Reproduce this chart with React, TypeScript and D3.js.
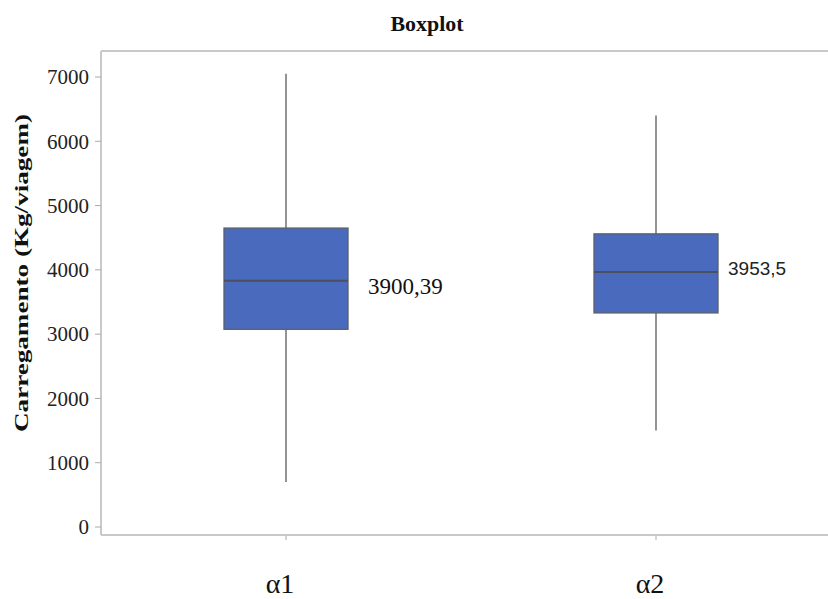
import React from 'react';
import * as d3 from 'd3';

// values
const categories = ['α1', 'α2'];
const whiskerLow = [700, 1500];
const q1 = [3075, 3330];
const median = [3830, 3965];
const q3 = [4650, 4560];
const whiskerHigh = [7050, 6400];
const medianLabels = ['3900,39', '3953,5'];
const yTicks = [0, 1000, 2000, 3000, 4000, 5000, 6000, 7000];

const W = 828;
const H = 599;
const margin = { top: 51, left: 101, bottom: 535 };

const App = () => {
  const y = d3.scaleLinear().domain([0, 7000]).range([527, 77]);
  const x = d3.scalePoint<string>().domain(categories).range([margin.left, margin.left + 740]).padding(0.5);
  const boxW = 124;

  const serif = 'Liberation Serif, Times New Roman, serif';
  const axisColor = '#c9c9c9';

  return (
    <svg width={W} height={H} style={{ position: 'absolute', left: 0, top: 0, background: '#fff' }}>
      <text x={427} y={31} textAnchor="middle" fontFamily={serif} fontWeight="bold" fontSize={21} fill="#111"
        textLength={73} lengthAdjust="spacingAndGlyphs">
        Boxplot
      </text>

      {/* frame: top border, left and bottom axes */}
      <line x1={margin.left} x2={W} y1={margin.top} y2={margin.top} stroke={axisColor} strokeWidth={2} />
      <line x1={margin.left} x2={margin.left} y1={margin.top} y2={margin.bottom} stroke={axisColor} strokeWidth={2} />
      <line x1={margin.left} x2={W} y1={margin.bottom} y2={margin.bottom} stroke={axisColor} strokeWidth={2} />

      {yTicks.map(t => (
        <g key={t}>
          <line x1={margin.left - 6} x2={margin.left} y1={y(t)} y2={y(t)} stroke="#aaa" strokeWidth={1} />
          <text x={89} y={y(t)} dy="0.35em" textAnchor="end" fontFamily={serif} fontSize={21} fill="#222">
            {t}
          </text>
        </g>
      ))}

      <text
        transform={`translate(28,273) rotate(-90)`}
        textAnchor="middle"
        fontFamily={serif}
        fontWeight="bold"
        fontSize={18}
        fill="#111"
        textLength={318}
        lengthAdjust="spacingAndGlyphs"
      >
        Carregamento (Kg/viagem)
      </text>

      {categories.map((c, i) => {
        const cx = x(c) as number;
        return (
          <g key={c}>
            <line x1={cx} x2={cx} y1={margin.bottom + 1} y2={margin.bottom + 5} stroke="#aaa" />
            <text x={cx - 6} y={593} textAnchor="middle" fontFamily={serif} fontSize={28} fill="#111">
              {c}
            </text>
            <line x1={cx} x2={cx} y1={y(whiskerHigh[i])} y2={y(whiskerLow[i])} stroke="#5a5a5a" strokeWidth={1.3} />
            <rect
              x={cx - boxW / 2}
              y={y(q3[i])}
              width={boxW}
              height={y(q1[i]) - y(q3[i])}
              fill="#4a6bbd"
              stroke="#5b5f6a"
              strokeWidth={1.3}
            />
            <line
              x1={cx - boxW / 2}
              x2={cx + boxW / 2}
              y1={y(median[i])}
              y2={y(median[i])}
              stroke="#4a5060"
              strokeWidth={2}
            />
          </g>
        );
      })}

      <text x={(x(categories[0]) as number) + boxW / 2 + 20} y={y(median[0]) + 5} dy="0.35em"
        fontFamily={serif} fontSize={23} fill="#111">
        {medianLabels[0]}
      </text>
      <text x={(x(categories[1]) as number) + boxW / 2 + 10} y={y(median[1]) - 4} dy="0.35em"
        fontFamily="Liberation Sans, Arial, sans-serif" fontSize={19} fill="#222">
        {medianLabels[1]}
      </text>
    </svg>
  );
};

export default App;
